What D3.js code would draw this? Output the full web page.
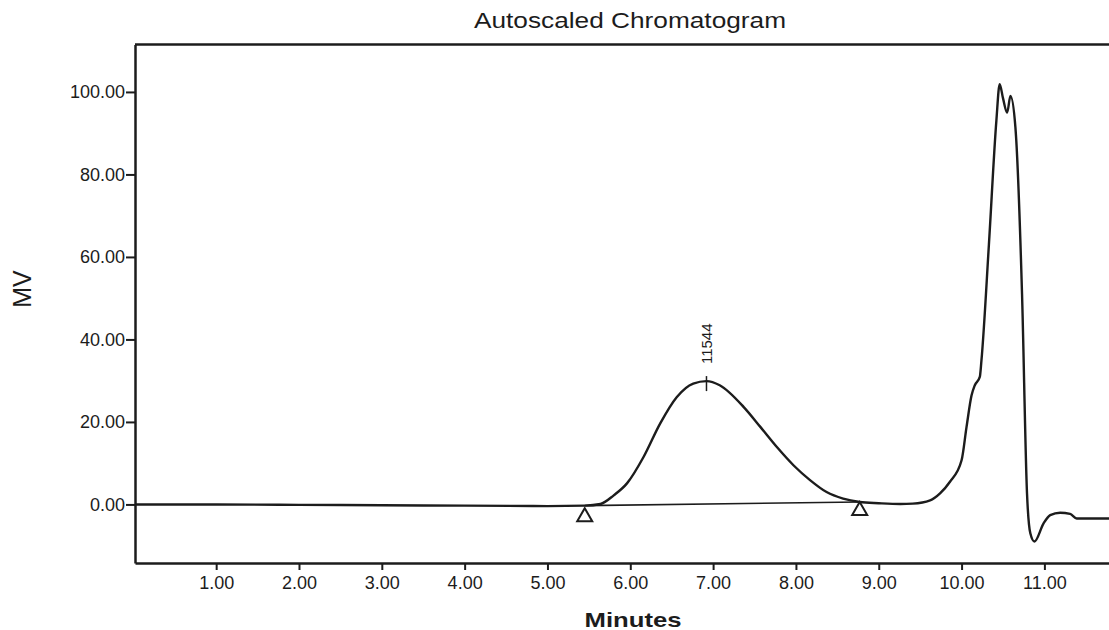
<!DOCTYPE html>
<html>
<head>
<meta charset="utf-8">
<script src="https://cdn.jsdelivr.net/npm/d3@7"></script>
<style>
  html, body { margin: 0; padding: 0; background: #fff; }
  svg { display: block; font-family: "Liberation Sans", Arial, sans-serif; }
</style>
</head>
<body>
<svg id="chart" width="1109" height="630"></svg>
<script>
// ---- data ----
const times  = [0.02, 1.0, 2.0, 3.0, 4.0, 5.0, 5.45, 5.64, 5.80, 5.96, 6.16, 6.36, 6.56, 6.76, 6.92, 7.08, 7.37, 7.57, 7.77, 7.97, 8.17, 8.37, 8.57, 8.77, 9.00, 9.26, 9.41, 9.62, 9.74, 9.86, 10.00, 10.06, 10.12, 10.16, 10.22, 10.24, 10.33, 10.42, 10.46, 10.50, 10.55, 10.59, 10.65, 10.73, 10.79, 10.83, 10.88, 10.99, 11.07, 11.19, 11.31, 11.39, 11.78];
const signal = [0.0, 0.0, -0.1, -0.2, -0.3, -0.4, -0.3, 0.1, 2.2, 5.1, 11.5, 19.6, 26.0, 29.3, 29.9, 28.9, 23.6, 18.8, 13.9, 9.5, 5.9, 3.0, 1.4, 0.6, 0.3, 0.1, 0.2, 1.0, 2.7, 5.5, 10.7, 18.8, 26.4, 28.9, 30.9, 34.9, 63, 93, 101.9, 98.5, 95.0, 99.0, 91.4, 51, 2.7, -7.0, -9.0, -4.6, -2.6, -2.0, -2.3, -3.4, -3.4];

const baselineT = [5.45, 8.77];
const baselineV = [-0.3, 0.6];

const markerT = [5.45, 8.77];
const markerV = [-0.9, 0.6];

const peakT = 6.92;
const peakV = 29.9;
const peakLabel = "11544";

const xTicks = [1, 2, 3, 4, 5, 6, 7, 8, 9, 10, 11];
const yTicks = [0, 20, 40, 60, 80, 100];

const titleText = "Autoscaled Chromatogram";
const xLabel = "Minutes";
const yLabel = "MV";

// ---- layout ----
const plotLeft = 135, plotRight = 1109, plotTop = 44.5, plotBottom = 563;
const ink = "#1c1c1c";

const svg = d3.select("#chart");

const x = d3.scaleLinear().domain([0.02, 11.78]).range([plotLeft, plotRight]);
const y = d3.scaleLinear().domain([-14.2, 111.5]).range([plotBottom, plotTop]);

// frame: top border
svg.append("line")
  .attr("x1", plotLeft).attr("x2", plotRight).attr("y1", plotTop).attr("y2", plotTop)
  .attr("stroke", ink).attr("stroke-width", 2.5);

// x axis
const xAxis = svg.append("g")
  .attr("transform", `translate(0,${plotBottom})`)
  .call(d3.axisBottom(x).tickValues(xTicks).tickFormat(d3.format(".2f"))
        .tickSize(7).tickPadding(6).tickSizeOuter(0));
xAxis.select(".domain").attr("stroke", ink).attr("stroke-width", 2.5);
xAxis.selectAll(".tick line").attr("stroke", ink).attr("stroke-width", 2);
xAxis.selectAll(".tick text").attr("fill", ink).style("font-size", "18px")
  .style("font-family", "Liberation Sans, Arial, sans-serif");

// y axis
const yAxis = svg.append("g")
  .attr("transform", `translate(${plotLeft},0)`)
  .call(d3.axisLeft(y).tickValues(yTicks).tickFormat(d3.format(".2f"))
        .tickSize(9).tickPadding(1).tickSizeOuter(0));
yAxis.select(".domain").attr("stroke", ink).attr("stroke-width", 2.5);
yAxis.selectAll(".tick line").attr("stroke", ink).attr("stroke-width", 2);
yAxis.selectAll(".tick text").attr("fill", ink).style("font-size", "18px")
  .style("font-family", "Liberation Sans, Arial, sans-serif");

// integration baseline
svg.append("path")
  .datum(baselineT.map((t, i) => [t, baselineV[i]]))
  .attr("fill", "none").attr("stroke", ink).attr("stroke-width", 1.6)
  .attr("d", d3.line().x(d => x(d[0])).y(d => y(d[1])));

// signal trace
const pts = times.map((t, i) => [t, signal[i]]);
svg.append("path")
  .datum(pts)
  .attr("fill", "none").attr("stroke", ink).attr("stroke-width", 2.4)
  .attr("stroke-linejoin", "round")
  .attr("d", d3.line().x(d => x(d[0])).y(d => y(d[1])).curve(d3.curveMonotoneX));

// triangle markers (apex at the value, hanging below)
const triW = 15, triH = 13;
svg.selectAll("path.marker")
  .data(markerT.map((t, i) => [t, markerV[i]]))
  .enter().append("path")
  .attr("class", "marker")
  .attr("fill", "none").attr("stroke", ink).attr("stroke-width", 2)
  .attr("d", d => {
    const cx = x(d[0]), cy = y(d[1]);
    return `M${cx},${cy} L${cx + triW / 2},${cy + triH} L${cx - triW / 2},${cy + triH} Z`;
  });

// peak tick mark
svg.append("line")
  .attr("x1", x(peakT)).attr("x2", x(peakT))
  .attr("y1", y(peakV) - 5).attr("y2", y(peakV) + 10)
  .attr("stroke", ink).attr("stroke-width", 1.5);

// peak label (rotated)
svg.append("text")
  .attr("transform", `translate(${x(peakT) + 6},${y(peakV) - 17}) rotate(-90)`)
  .attr("fill", ink).style("font-size", "15px")
  .attr("text-anchor", "start")
  .text(peakLabel);

// title
svg.append("text")
  .attr("x", 630).attr("y", 28)
  .attr("text-anchor", "middle").attr("fill", ink)
  .style("font-size", "22px")
  .attr("textLength", 312).attr("lengthAdjust", "spacingAndGlyphs")
  .text(titleText);

// x label
svg.append("text")
  .attr("x", 633).attr("y", 627)
  .attr("text-anchor", "middle").attr("fill", ink)
  .style("font-size", "21px").style("font-weight", "bold")
  .attr("textLength", 97).attr("lengthAdjust", "spacingAndGlyphs")
  .text(xLabel);

// y label
svg.append("text")
  .attr("transform", "translate(31,289) rotate(-90)")
  .attr("text-anchor", "middle").attr("fill", ink)
  .style("font-size", "25px")
  .text(yLabel);
</script>
</body>
</html>
